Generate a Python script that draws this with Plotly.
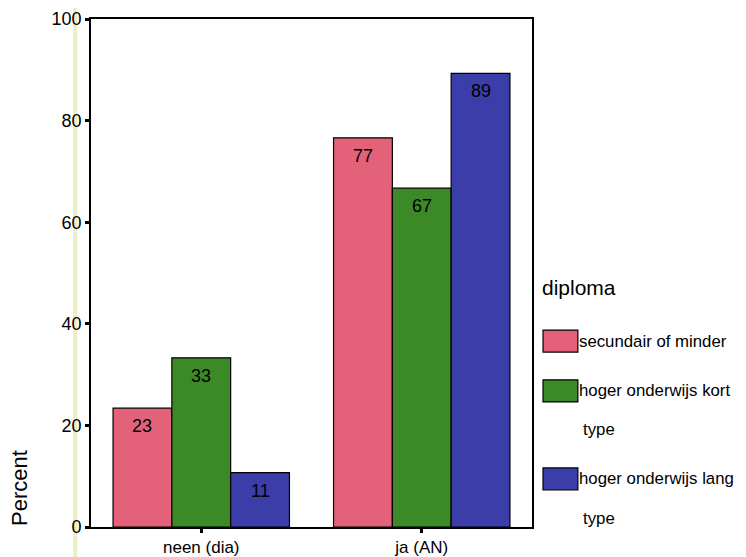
import plotly.graph_objects as go

categories = ["neen (dia)", "ja (AN)"]
series_names = ["secundair of minder", "hoger onderwijs kort type", "hoger onderwijs lang type"]
legend_first = ["secundair of minder", "hoger onderwijs kort", "hoger onderwijs lang"]
legend_second = ["", "type", "type"]
values = [
    [23.4, 76.6],
    [33.3, 66.7],
    [10.7, 89.3],
]
labels = [
    ["23", "77"],
    ["33", "67"],
    ["11", "89"],
]
colors = ["#E3627A", "#3B8A27", "#3B3DA8"]
y_ticks = [0, 20, 40, 60, 80, 100]

FONT = "Liberation Sans, Arial, sans-serif"
BARGAP = 0.2
n_series = len(series_names)
bar_w = (1 - BARGAP) / n_series

fig = go.Figure()
for k, (name, vals, labs, col) in enumerate(zip(series_names, values, labels, colors)):
    fig.add_trace(go.Bar(
        x=categories, y=vals, name=name,
        marker=dict(color=col, line=dict(color="black", width=1.2)),
        showlegend=False,
    ))
    offset = (k - (n_series - 1) / 2) * bar_w
    for i, (v, lab) in enumerate(zip(vals, labs)):
        fig.add_annotation(text=lab, xref="x", yref="y", x=i + offset, y=v,
                           showarrow=False, xanchor="center", yanchor="top", yshift=-6,
                           font=dict(size=18, family=FONT, color="black"))

# page has an 8px body margin: size the figure so it fits the window without scrollbars
fig.update_layout(
    width=738, height=549,
    margin=dict(l=83, r=214, t=11, b=30, autoexpand=False),
    paper_bgcolor="white", plot_bgcolor="white",
    barmode="group", bargap=BARGAP, bargroupgap=0,
    font=dict(family=FONT, color="black"),
)
fig.update_xaxes(
    range=[-0.5, 1.5], showline=True, linecolor="black", linewidth=1.6, mirror=True,
    ticks="outside", ticklen=4, tickwidth=3, tickcolor="black", automargin=False,
    tickfont=dict(size=17, family=FONT), showgrid=False, fixedrange=True,
)
fig.update_yaxes(
    range=[0, 100], tickvals=y_ticks, showline=True, linecolor="black", linewidth=1.6, mirror=True,
    ticks="outside", ticklen=4, tickwidth=3, tickcolor="black", automargin=False,
    tickfont=dict(size=18, family=FONT), showgrid=False, zeroline=False, fixedrange=True,
)

# scan artifact line
fig.add_shape(type="line", xref="paper", yref="paper", x0=-0.036, x1=-0.036, y0=-0.08, y1=1.06,
              line=dict(color="rgba(225,225,160,0.6)", width=4), layer="below")

# y-axis title placed low, as in the original
fig.add_annotation(text="Percent", xref="paper", yref="paper", x=-0.161, y=0.077,
                   textangle=-90, showarrow=False, font=dict(size=22, family=FONT),
                   xanchor="center", yanchor="middle")

# legend drawn manually
fig.add_annotation(text="diploma", xref="paper", yref="paper", x=1.018, y=0.472,
                   showarrow=False, xanchor="left", yanchor="middle", font=dict(size=21, family=FONT))
item_y = [0.366, 0.268, 0.0945]
second_y = [None, 0.191, 0.0177]
for l1, l2, col, yy, y2 in zip(legend_first, legend_second, colors, item_y, second_y):
    fig.add_shape(type="rect", xref="paper", yref="paper",
                  x0=1.025, x1=1.104, y0=yy - 0.0217, y1=yy + 0.0217,
                  fillcolor=col, line=dict(color="black", width=1.2))
    fig.add_annotation(text=l1, xref="paper", yref="paper", x=1.101, y=yy,
                       showarrow=False, xanchor="left", yanchor="middle",
                       font=dict(size=16.8, family=FONT))
    if l2:
        fig.add_annotation(text=l2, xref="paper", yref="paper", x=1.110, y=y2,
                           showarrow=False, xanchor="left", yanchor="middle",
                           font=dict(size=16.8, family=FONT))

fig.write_html("out.html")
